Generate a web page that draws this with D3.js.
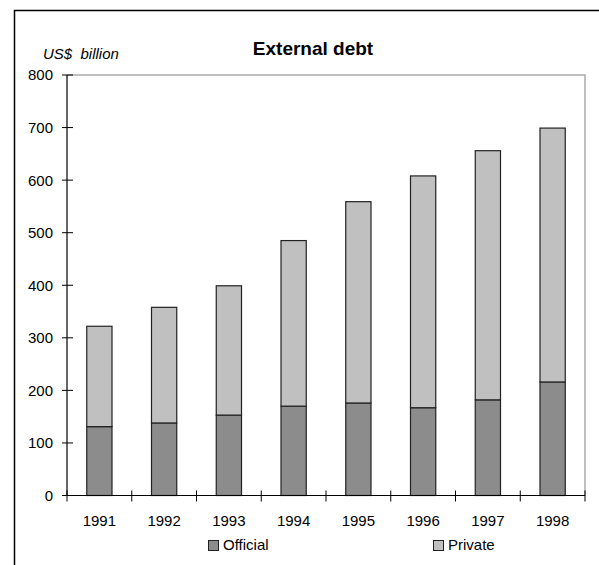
<!DOCTYPE html>
<html>
<head>
<meta charset="utf-8">
<script src="https://cdn.jsdelivr.net/npm/d3@7"></script>
<style>
  html, body { margin: 0; padding: 0; background: #fff; }
  svg { display: block; font-family: "Liberation Sans", Arial, sans-serif; }
</style>
</head>
<body>
<svg id="chart" width="599" height="565"></svg>
<script>
// External debt, US$ billion
const years = ["1991", "1992", "1993", "1994", "1995", "1996", "1997", "1998"];
const official = [131, 138, 153, 170, 176, 167, 182, 216];
const privateDebt = [191, 220, 246, 315, 383, 441, 474, 483];
const yTicks = [0, 100, 200, 300, 400, 500, 600, 700, 800];
const seriesNames = ["Official", "Private"];
const seriesColors = ["#8c8c8c", "#c0c0c0"];

(function () {
  const svg = d3.select("#chart");
  const plotLeft = 67, plotRight = 585, plotTop = 75, plotBottom = 495.5;

  // outer frame
  svg.append("rect")
    .attr("x", 14.5).attr("y", 10.5).attr("width", 620).attr("height", 600)
    .attr("fill", "none").attr("stroke", "#000").attr("stroke-width", 1.5);

  const x = d3.scaleBand().domain(years).range([plotLeft, plotRight]).paddingInner(0.61).paddingOuter(0.305);
  const xBand = d3.scaleBand().domain(years).range([plotLeft, plotRight]);
  const y = d3.scaleLinear().domain([0, 800]).range([plotBottom, plotTop]);

  // plot area border (top and right)
  svg.append("path")
    .attr("d", `M${plotLeft},${plotTop}H${plotRight}V${plotBottom}`)
    .attr("fill", "none").attr("stroke", "#aaa").attr("stroke-width", 1.5);

  const rows = years.map((yr, i) => ({ year: yr, Official: official[i], Private: privateDebt[i] }));
  const stacked = d3.stack().keys(seriesNames)(rows);

  const g = svg.append("g");
  stacked.forEach((layer, li) => {
    g.selectAll(null).data(layer).enter().append("rect")
      .attr("x", d => x(d.data.year))
      .attr("width", x.bandwidth())
      .attr("y", d => y(d[1]))
      .attr("height", d => y(d[0]) - y(d[1]))
      .attr("fill", seriesColors[li])
      .attr("stroke", "#222").attr("stroke-width", 1.2);
  });

  // y axis
  const yAxis = svg.append("g").attr("transform", `translate(${plotLeft},0)`);
  yAxis.append("line").attr("x1", 0).attr("x2", 0).attr("y1", plotTop).attr("y2", plotBottom)
    .attr("stroke", "#000").attr("stroke-width", 1.2);
  yTicks.forEach(t => {
    yAxis.append("line").attr("x1", -5).attr("x2", 6).attr("y1", y(t)).attr("y2", y(t))
      .attr("stroke", "#000").attr("stroke-width", 1);
    yAxis.append("text").attr("x", -14).attr("y", y(t)).attr("dy", "0.36em")
      .attr("text-anchor", "end").attr("font-size", 15).attr("fill", "#000").text(t);
  });

  // x axis
  const xAxis = svg.append("g");
  xAxis.append("line").attr("x1", plotLeft).attr("x2", plotRight).attr("y1", plotBottom).attr("y2", plotBottom)
    .attr("stroke", "#000").attr("stroke-width", 1.2);
  const boundaries = years.map(yr => xBand(yr)).concat([plotRight]);
  boundaries.forEach(bx => {
    xAxis.append("line").attr("x1", bx).attr("x2", bx).attr("y1", plotBottom - 5).attr("y2", plotBottom + 6)
      .attr("stroke", "#000").attr("stroke-width", 1);
  });
  years.forEach(yr => {
    xAxis.append("text").attr("x", xBand(yr) + xBand.bandwidth() / 2).attr("y", 526)
      .attr("text-anchor", "middle").attr("font-size", 15).attr("fill", "#000").text(yr);
  });

  // title and unit label
  svg.append("text").attr("x", 313).attr("y", 55).attr("text-anchor", "middle")
    .attr("font-size", 19).attr("font-weight", "bold").text("External debt");
  svg.append("text").attr("x", 43).attr("y", 59)
    .attr("font-size", 15).attr("font-style", "italic").attr("xml:space", "preserve").text("US$  billion");

  // legend
  const legendX = [208, 433];
  seriesNames.forEach((name, i) => {
    svg.append("rect").attr("x", legendX[i] + 0.5).attr("y", 540.5).attr("width", 10).attr("height", 10)
      .attr("fill", seriesColors[i]).attr("stroke", "#222").attr("stroke-width", 1);
    svg.append("text").attr("x", legendX[i] + 15).attr("y", 549.5)
      .attr("font-size", 15).text(name);
  });
})();
</script>
</body>
</html>
